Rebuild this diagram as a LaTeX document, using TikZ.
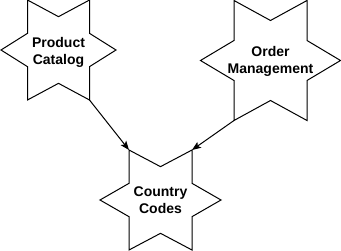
\documentclass[tikz,border=0pt]{standalone}
\usepackage{fontspec}
\setmainfont{Liberation Sans}
\usetikzlibrary{arrows.meta,calc}

% Six-point star drawn inside its box:
% #1 name, #2 centre x, #3 centre y, #4 half width (side points),
% #5 horizontal offset of the upper/lower points, #6 half height
\newcommand\sixstar[6]{%
  \coordinate (#1) at (#2,#3);
  \coordinate (#1-w)  at ($(#1)+(-#4,0)$);
  \coordinate (#1-e)  at ($(#1)+(#4,0)$);
  \coordinate (#1-nw) at ($(#1)+(-#5,-#6)$);
  \coordinate (#1-ne) at ($(#1)+(#5,-#6)$);
  \coordinate (#1-sw) at ($(#1)+(-#5,#6)$);
  \coordinate (#1-se) at ($(#1)+(#5,#6)$);
  \draw[starline]
    (#1-w) -- ($(#1)+(-#5,-#6/3)$) -- (#1-nw) -- ($(#1)+(0,-2*#6/3)$)
    -- (#1-ne) -- ($(#1)+(#5,-#6/3)$) -- (#1-e) -- ($(#1)+(#5,#6/3)$)
    -- (#1-se) -- ($(#1)+(0,2*#6/3)$) -- (#1-sw) -- ($(#1)+(-#5,#6/3)$)
    -- cycle;
}

\tikzset{
  starline/.style={draw=black, line width=1pt, line join=miter, fill=white},
  label/.style={align=center, font=\fontsize{14}{17}\selectfont\bfseries, inner sep=0pt},
  link/.style={draw=black, line width=1pt,
    -{Stealth[length=9pt, width=7pt, inset=2pt]}},
}

\begin{document}
\begin{tikzpicture}[x=1pt, y=-1pt]
  \useasboundingbox (0,0) rectangle (341,251);

  \sixstar{catalog}{58.5}{50}{57.5}{31}{50}
  \node[label] (catalogtext) at (58.5,52) {Product\\Catalog};

  \sixstar{orders}{270.5}{60.5}{70}{36.5}{60}
  \node[label] (orderstext) at (270.5,61) {Order\\Management};

  \sixstar{country}{160.5}{200}{60.5}{31.5}{50}
  \node[label] (countrytext) at (160.5,200) {Country\\Codes};

  \draw[link] (catalog-se) -- (country-nw);
  \draw[link] (orders-sw) -- (country-ne);
\end{tikzpicture}
\end{document}
